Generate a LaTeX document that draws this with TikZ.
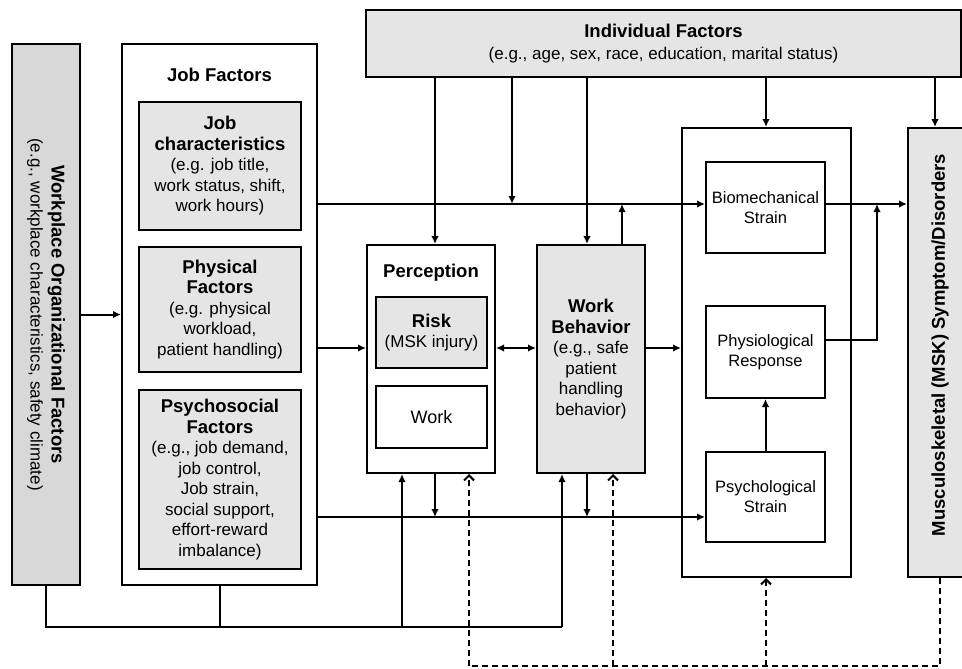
\documentclass[tikz,border=0pt]{standalone}
\usepackage{fontspec}
\setmainfont{Liberation Sans}
\usetikzlibrary{arrows.meta,positioning}
\definecolor{boxgray}{HTML}{E5E5E5}
\definecolor{sidegray}{HTML}{D8D8D8}
\newcommand{\hd}[1]{{\fontsize{18.5}{22}\selectfont\bfseries #1}}

\begin{document}
\begin{tikzpicture}[x=1pt,y=-1pt,
  box/.style={draw, line width=2pt, inner sep=0pt, align=center, font=\fontsize{17}{20.5}\selectfont},
  gbox/.style={box, fill=boxgray},
  txt/.style={inner sep=0pt, align=center, font=\fontsize{17}{21}\selectfont},
  conn/.style={line width=2pt},
  arr/.style={conn, -{Latex[length=8pt,width=7.5pt]}},
  dconn/.style={conn, dash pattern=on 6pt off 4pt},
  darr/.style={dconn, -{Straight Barb[length=5pt,width=10pt]}}]
\clip (0,0) rectangle (962,669);
% helper rows and columns
\coordinate (ytop) at (0,204);
\coordinate (yphy) at (0,340);
\coordinate (ymid) at (0,348);
\coordinate (ylow) at (0,517);
\coordinate (ybot) at (0,627);
\coordinate (ydash) at (0,666);
\coordinate (xa) at (435,0);
\coordinate (xb) at (512,0);
\coordinate (xc) at (587,0);
\coordinate (xd) at (622,0);
\coordinate (xe) at (766,0);
\coordinate (xf) at (935,0);
\coordinate (xg) at (877,0);
\coordinate (xh) at (402,0);
\coordinate (xi) at (562,0);
\coordinate (xj) at (469,0);
\coordinate (xk) at (613,0);
\coordinate (xm) at (940,0);
\coordinate (xn) at (46,0);
% left column
\node[gbox, fill=sidegray, minimum width=68, minimum height=541] (wof) at (46,314.5) {};
\node[txt, rotate=-90] (woftxt) at (wof.center) {\hd{Workplace Organizational Factors}\\(e.g., workplace characteristics, safety climate)};
\node[box, minimum width=195, minimum height=541] (jf) at (219.5,314.5) {};
\node[txt] (jftitle) at (219.5,75) {\hd{Job Factors}};
\node[gbox, minimum width=162, minimum height=128] (jc) at (220,166) {\hd{Job}\\\hd{characteristics}\\(e.g. job title,\\work status, shift,\\work hours)};
\node[gbox, minimum width=162, minimum height=125] (pf) at (220,309.5) {\hd{Physical}\\\hd{Factors}\\(e.g. physical\\workload,\\patient handling)};
\node[gbox, minimum width=162, minimum height=179] (psf) at (220,479.5) {\hd{Psychosocial}\\\hd{Factors}\\(e.g., job demand,\\job control,\\Job strain,\\social support,\\effort-reward\\imbalance)};
% top
\node[gbox, minimum width=595, minimum height=67] (ind) at (663.5,43.5) {\hd{Individual Factors}\\[2pt](e.g., age, sex, race, education, marital status)};
% middle
\node[box, minimum width=128, minimum height=228] (perc) at (431,359) {};
\node[txt] (perctitle) at (431,273) {\hd{Perception}};
\node[gbox, minimum width=111, minimum height=71] (risk) at (431.5,332.5) {\hd{Risk}\\(MSK injury)};
\node[box, minimum width=111, minimum height=62, font=\fontsize{18}{21}\selectfont] (work) at (431.5,417) {Work};
\node[gbox, minimum width=108, minimum height=228] (wb) at (591,359) {\hd{Work}\\\hd{Behavior}\\(e.g., safe\\patient\\handling\\behavior)};
% strain column
\node[box, minimum width=169, minimum height=449] (strain) at (766.5,352.5) {};
\node[box, minimum width=119, minimum height=91, font=\fontsize{16.5}{20}\selectfont] (bio) at (765.5,207.5) {Biomechanical\\Strain};
\node[box, minimum width=119, minimum height=92, font=\fontsize{16.5}{20}\selectfont] (phys) at (765.5,352) {Physiological\\Response};
\node[box, minimum width=119, minimum height=90, font=\fontsize{16.5}{20}\selectfont] (psyc) at (765.5,497) {Psychological\\Strain};
\node[gbox, minimum width=60, minimum height=449] (msk) at (938,352.5) {};
\node[txt, rotate=90] (msktxt) at (940,345) {\hd{Musculoskeletal (MSK) Symptom/Disorders}};
% connectors
\draw[arr] (wof.east) -- (jf.west);
\draw[arr] (jf.east |- ytop) -- (bio.west |- ytop);
\draw[arr] (jf.east |- ymid) -- (perc.west |- ymid);
\draw[conn, {Latex[length=8pt,width=7.5pt]}-{Latex[length=8pt,width=7.5pt]}] (perc.east |- ymid) -- (wb.west |- ymid);
\draw[arr] (wb.east |- ymid) -- (strain.west |- ymid);
\draw[arr] (jf.east |- ylow) -- (psyc.west |- ylow);
\draw[arr] (bio.east |- ytop) -- (msk.west |- ytop);
\draw[arr] (phys.east |- yphy) -| (xg |- ytop);
\draw[arr] (psyc.north) -- (phys.south);
\draw[arr] (xa |- ind.south) -- (xa |- perc.north);
\draw[arr] (xb |- ind.south) -- (xb |- ytop);
\draw[arr] (xc |- ind.south) -- (xc |- wb.north);
\draw[arr] (xd |- wb.north) -- (xd |- ytop);
\draw[arr] (xe |- ind.south) -- (xe |- strain.north);
\draw[arr] (xf |- ind.south) -- (xf |- msk.north);
\draw[arr] (xa |- perc.south) -- (xa |- ylow);
\draw[arr] (xc |- wb.south) -- (xc |- ylow);
% bottom feedback
\draw[conn] (xn |- wof.south) -- (xn |- ybot) -- (xi |- ybot);
\draw[conn] (jf.south) -- (jf.south |- ybot);
\draw[arr] (xh |- ybot) -- (xh |- perc.south);
\draw[arr] (xi |- ybot) -- (xi |- wb.south);
\draw[dconn] (xm |- msk.south) -- (xm |- ydash) -- (xj |- ydash);
\draw[darr] (xj |- ydash) -- (xj |- perc.south);
\draw[darr] (xk |- ydash) -- (xk |- wb.south);
\draw[darr] (xe |- ydash) -- (xe |- strain.south);
\end{tikzpicture}
\end{document}
